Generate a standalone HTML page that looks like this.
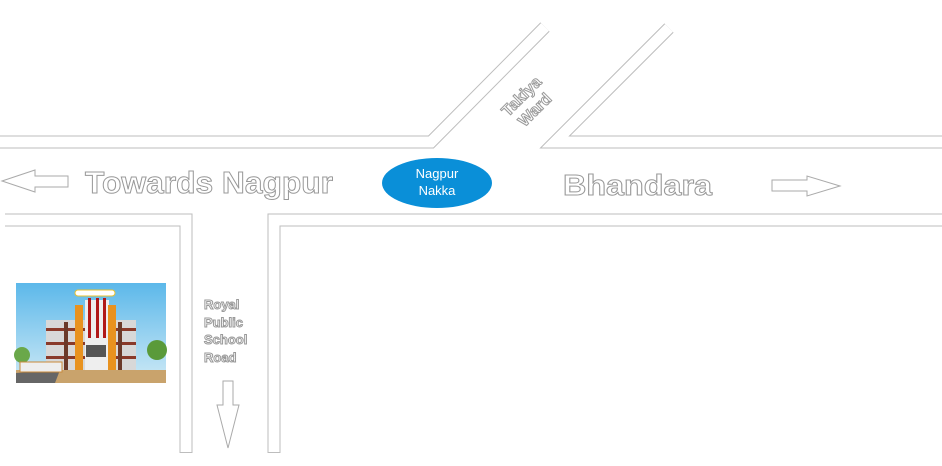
<!DOCTYPE html>
<html><head><style>
body{margin:0;width:942px;height:461px;background:#fff;overflow:hidden;font-family:"Liberation Sans",sans-serif}
</style></head><body>
<svg width="942" height="461" viewBox="0 0 942 461" xmlns="http://www.w3.org/2000/svg">
<defs>
<linearGradient id="sky" x1="0" y1="0" x2="0" y2="1"><stop offset="0" stop-color="#5cb8ea"/><stop offset="1" stop-color="#cfeaf6"/></linearGradient>
</defs>
<g fill="none" stroke-linejoin="miter">
<g stroke="#bdbdbd" stroke-width="13">
<polyline points="0,142 431,142 545,27"/>
<polyline points="669,28 555,142 942,142"/>
<polyline points="5,220 186,220 186,453"/>
<polyline points="274,453 274,220 942,220"/>
</g>
<g stroke="#fff" stroke-width="11">
<polyline points="-5,142 431,142 545,27"/>
<polyline points="669,28 555,142 947,142"/>
<polyline points="5,220 186,220 186,452"/>
<polyline points="274,452 274,220 947,220"/>
</g>
</g>
<!-- arrows -->
<g fill="#fff" stroke="#aaa" stroke-width="1">
<polygon points="2,181 35,170 35,176 68,176 68,187 35,187 35,192"/>
<polygon points="840,186 807,176 807,180 772,180 772,191 807,191 807,196"/>
<polygon points="228,448 217,405 223,405 223,381 233,381 233,405 239,405"/>
</g>
<ellipse cx="437" cy="183" rx="55" ry="25" fill="#0a8fd8"/>
<text x="437" y="178" text-anchor="middle" font-size="13" fill="#fff">Nagpur</text>
<text x="437" y="195" text-anchor="middle" font-size="13" fill="#fff">Nakka</text>
<g fill="#fff" stroke="#999" stroke-width="1" font-weight="bold">
<text x="85" y="193" font-size="31" textLength="248" lengthAdjust="spacingAndGlyphs">Towards Nagpur</text>
<text x="563" y="195" font-size="29" textLength="149" lengthAdjust="spacingAndGlyphs">Bhandara</text>
<g transform="translate(528,103) rotate(-45)" font-size="16" text-anchor="middle">
<text x="0" y="-4">Takiya</text><text x="0" y="15">Ward</text></g>
<g font-size="13">
<text x="204" y="309">Royal</text><text x="204" y="327">Public</text>
<text x="204" y="344">School</text><text x="204" y="362">Road</text></g>
</g>
<!-- picture -->
<rect x="16" y="283" width="150" height="100" fill="url(#sky)"/>
<polygon points="16,370 166,370 166,383 16,383" fill="#c9a36c"/>
<polygon points="16,373 60,370 55,383 16,383" fill="#666"/>
<rect x="46" y="320" width="90" height="50" fill="#d8d8d8"/>
<rect x="46" y="328" width="90" height="3" fill="#8a3a2a"/>
<rect x="46" y="342" width="90" height="3" fill="#8a3a2a"/>
<rect x="46" y="356" width="90" height="3" fill="#8a3a2a"/>
<rect x="64" y="322" width="4" height="48" fill="#6b3a2a"/>
<rect x="118" y="322" width="4" height="48" fill="#6b3a2a"/>
<rect x="85" y="300" width="24" height="70" fill="#eee"/>
<rect x="75" y="305" width="8" height="65" fill="#e8921f"/>
<rect x="108" y="305" width="8" height="65" fill="#e8921f"/>
<rect x="88" y="298" width="3" height="40" fill="#b01818"/>
<rect x="96" y="298" width="3" height="40" fill="#b01818"/>
<rect x="103" y="298" width="3" height="40" fill="#b01818"/>
<rect x="86" y="345" width="20" height="12" fill="#555"/>
<rect x="75" y="290" width="40" height="6" rx="3" fill="#fff" stroke="#e8c030"/>
<circle cx="157" cy="350" r="10" fill="#5a9a3a"/>
<circle cx="22" cy="355" r="8" fill="#6aa84a"/>
<rect x="20" y="362" width="42" height="10" fill="#eee" stroke="#c98a3a"/>
</svg>
</body></html>
